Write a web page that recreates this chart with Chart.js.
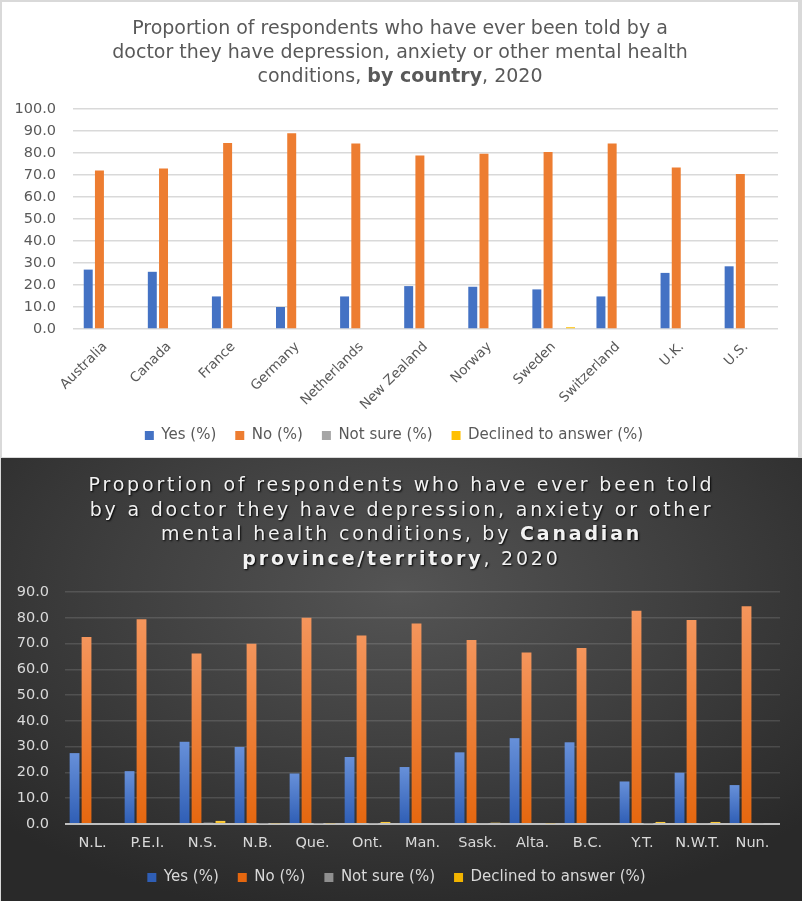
<html>
    <head>
        <script src="https://cdn.jsdelivr.net/npm/chart.js"></script>
        <style>
            body { margin: 0; background: #d9d9d9; width: 802px; height: 901px; position: relative; overflow: hidden; }
            .panelTop { position: absolute; left: 2px; top: 2px; width: 796px; height: 455px; background: #fff; }
            .panelBottom { position: absolute; left: 1px; top: 458px; width: 801px; height: 443px;
                background: radial-gradient(ellipse 70% 75% at 50% 30%, #545454 0%, #3f3f3f 50%, #292929 100%); }
            .title { position: absolute; left: 0; width: 100%; text-align: center; font-family: "DejaVu Sans", sans-serif; }
            .titleTop { top: 13px; font-size: 19px; line-height: 24px; color: #595959; }
            .titleBottom { top: 14px; font-size: 19px; line-height: 24.5px; color: #f2f2f2; letter-spacing: 2.8px;
                text-shadow: 1px 1px 2px #000; }
            canvas { position: absolute; left: 0; top: 0; }
        </style>
    </head>
    <body>
        <div class="panelTop">
            <canvas id="byCountry" width="796" height="455"></canvas>
            <div class="title titleTop">Proportion of respondents who have ever been told by a<br>doctor they have depression, anxiety or other mental health<br>conditions, <b>by country</b>, 2020</div>
        </div>
        <div class="panelBottom">
            <canvas id="byProvince" width="801" height="443"></canvas>
            <div class="title titleBottom">Proportion of respondents who have ever been told<br>by a doctor they have depression, anxiety or other<br>mental health conditions, by <b>Canadian</b><br><b>province/territory</b>, 2020</div>
        </div>
    </body>
    <script>
        const seriesNames = ['Yes (%)', 'No (%)', 'Not sure (%)', 'Declined to answer (%)'];

        const countries = ['Australia', 'Canada', 'France', 'Germany', 'Netherlands', 'New Zealand', 'Norway', 'Sweden', 'Switzerland', 'U.K.', 'U.S.'];
        const countryYes = [27.0, 26.0, 14.8, 10.0, 14.8, 19.5, 19.2, 18.0, 14.8, 25.5, 28.5];
        const countryNo = [72.0, 73.0, 84.6, 89.0, 84.3, 78.9, 79.7, 80.4, 84.3, 73.4, 70.4];
        const countryNotSure = [0, 0, 0, 0, 0, 0, 0, 0, 0, 0, 0];
        const countryDeclined = [0, 0, 0, 0, 0, 0, 0, 0.8, 0, 0, 0];

        const provinces = ['N.L.', 'P.E.I.', 'N.S.', 'N.B.', 'Que.', 'Ont.', 'Man.', 'Sask.', 'Alta.', 'B.C.', 'Y.T.', 'N.W.T.', 'Nun.'];
        const provYes = [27.5, 20.5, 31.9, 29.9, 19.6, 26.0, 22.1, 27.8, 33.3, 31.7, 16.5, 19.9, 15.1];
        const provNo = [72.5, 79.4, 66.1, 69.9, 80.0, 73.1, 77.8, 71.4, 66.5, 68.3, 82.7, 79.1, 84.5];
        const provNotSure = [0, 0, 0.5, 0.1, 0.1, 0.2, 0, 0.3, 0, 0, 0.1, 0.3, 0.3];
        const provDeclined = [0, 0, 1.2, 0.3, 0.3, 0.8, 0, 0.5, 0.3, 0, 0.8, 0.8, 0];

        const flatColors = ['#4472c4', '#ed7d31', '#a5a5a5', '#ffc000'];
        // top / bottom of the gradient for the dark chart
        const gradColors = [['#6790d9', '#2f5eb5'], ['#f4955c', '#e5670f'], ['#c8c8c8', '#8f8f8f'], ['#ffd24d', '#f2b400']];
        const fontFamily = 'DejaVu Sans';

        function byCountry(){
            const ctx = document.getElementById('byCountry');
            const values = [countryYes, countryNo, countryNotSure, countryDeclined];
            const data = {
                labels: countries,
                datasets: values.map((v, i) => ({
                    label: seriesNames[i],
                    data: v,
                    backgroundColor: flatColors[i],
                    categoryPercentage: 0.7,
                    barPercentage: 0.8
                }))
            };
            const config = {
                type: 'bar',
                data: data,
                options: {
                    responsive: false,
                    animation: false,
                    layout: { padding: { top: 107, left: 8, right: 20, bottom: 4 } },
                    scales: {
                        y: {
                            min: 0, max: 100,
                            ticks: { stepSize: 10, color: '#595959', font: { family: fontFamily, size: 14.5 },
                                callback: v => v.toFixed(1), padding: 17 },
                            grid: { color: '#d9d9d9', lineWidth: 1.5, drawTicks: false },
                            border: { display: false },
                            afterFit: s => { s.width = 63; }
                        },
                        x: {
                            ticks: { color: '#595959', font: { family: fontFamily, size: 13.5 }, minRotation: 45, maxRotation: 45, padding: 2 },
                            grid: { display: false },
                            border: { display: false },
                            afterFit: s => { s.height = 80; }
                        }
                    },
                    plugins: {
                        legend: {
                            position: 'bottom',
                            labels: { boxWidth: 9, boxHeight: 9, color: '#595959', padding: 19,
                                font: { family: fontFamily, size: 15 } }
                        },
                        tooltip: { enabled: false }
                    }
                }
            };
            new Chart(ctx, config);
        }
        byCountry();

        function barGradient(i){
            return (c) => {
                const chart = c.chart;
                if (!chart.chartArea || c.type !== 'data') return gradColors[i][1];
                const y = chart.scales.y;
                const top = y.getPixelForValue(c.raw);
                const base = y.getPixelForValue(0);
                if (base - top < 1) return gradColors[i][1];
                const g = chart.ctx.createLinearGradient(0, top, 0, base);
                g.addColorStop(0, gradColors[i][0]);
                g.addColorStop(1, gradColors[i][1]);
                return g;
            };
        }

        function byProvince(){
            const ctx = document.getElementById('byProvince');
            const values = [provYes, provNo, provNotSure, provDeclined];
            const data = {
                labels: provinces,
                datasets: values.map((v, i) => ({
                    label: seriesNames[i],
                    data: v,
                    backgroundColor: barGradient(i),
                    categoryPercentage: 0.87,
                    barPercentage: 0.82
                }))
            };
            const config = {
                type: 'bar',
                data: data,
                options: {
                    responsive: false,
                    animation: false,
                    layout: { padding: { top: 134, left: 12, right: 22, bottom: 6 } },
                    scales: {
                        y: {
                            min: 0, max: 90,
                            ticks: { stepSize: 10, color: '#d9d9d9', font: { family: fontFamily, size: 14.5 },
                                callback: v => v.toFixed(1), padding: 16 },
                            grid: {
                                color: c => c.tick.value === 0 ? '#bfbfbf' : 'rgba(255,255,255,0.13)',
                                lineWidth: c => c.tick.value === 0 ? 2 : 1.5,
                                drawTicks: false
                            },
                            border: { display: false },
                            afterFit: s => { s.width = 52; }
                        },
                        x: {
                            ticks: { color: '#d9d9d9', font: { family: fontFamily, size: 14.5 }, maxRotation: 0, padding: 3 },
                            grid: { display: false },
                            border: { display: false },
                            afterFit: s => { s.height = 27; }
                        }
                    },
                    plugins: {
                        legend: {
                            position: 'bottom',
                            labels: { boxWidth: 9, boxHeight: 9, color: '#d9d9d9', padding: 19,
                                font: { family: fontFamily, size: 15 },
                                generateLabels: chart => seriesNames.map((n, i) => ({
                                    text: n, fillStyle: gradColors[i][1], strokeStyle: gradColors[i][1],
                                    lineWidth: 0, fontColor: '#d9d9d9', datasetIndex: i, hidden: false
                                }))
                            }
                        },
                        tooltip: { enabled: false }
                    }
                }
            };
            new Chart(ctx, config);
        }
        byProvince();
    </script>
</html>
